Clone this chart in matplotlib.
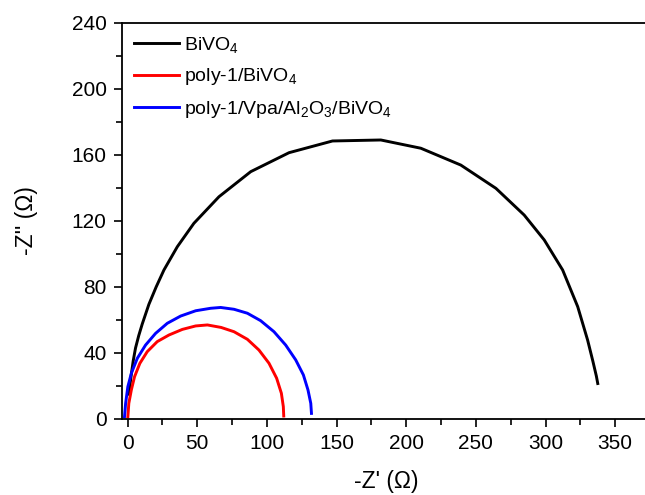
import numpy as np
import matplotlib
matplotlib.use("Agg")
import matplotlib.pyplot as plt
from matplotlib.ticker import MultipleLocator

plt.rcParams['font.family'] = ['Liberation Sans', 'DejaVu Sans']
plt.rcParams['mathtext.fontset'] = 'custom'
plt.rcParams['mathtext.rm'] = 'Liberation Sans'
plt.rcParams['mathtext.it'] = 'Liberation Sans:italic'

# Nyquist data
bivo4_x = [1.0, 2.2, 4.0, 5.7, 8.0, 10.5, 15.3, 20.5, 26.1, 35.7, 47.6, 65.6, 88.4, 115.9,
           147.1, 181.8, 210.5, 239.2, 264.4, 284.7, 299.1, 312.3, 323.1, 330.2, 334.0,
           336.5, 337.5]
bivo4_y = [15.0, 24.0, 35.0, 43.0, 50.5, 57.5, 69.5, 80.0, 90.3, 104.4, 118.6, 134.7, 149.9,
           161.4, 168.5, 169.1, 164.1, 153.9, 139.8, 123.6, 108.5, 90.3, 68.1, 47.9, 35.0,
           26.0, 21.5]

poly1_x = [0.2, 0.9, 2.7, 5.0, 8.8, 14.1, 21.3, 29.7, 39.3, 48.9, 57.3, 67.1, 76.4, 86.0,
           94.3, 101.5, 107.0, 110.4, 111.8, 112.1]
poly1_y = [1.4, 9.5, 17.6, 25.6, 33.7, 40.8, 46.9, 50.9, 54.3, 56.4, 57.0, 55.5, 52.9, 48.3,
           41.8, 33.8, 24.7, 15.6, 7.5, 1.8]

vpa_x = [-2.2, -1.4, 0.2, 2.7, 7.0, 12.9, 20.1, 28.5, 38.1, 48.9, 59.6, 66.8, 76.4, 86.0,
         95.5, 105.1, 113.5, 120.7, 126.2, 129.5, 131.5, 132.0]
vpa_y = [1.4, 9.5, 19.6, 27.7, 36.8, 44.8, 51.9, 58.0, 62.4, 65.6, 67.1, 67.6, 66.5, 64.1,
         59.6, 52.9, 44.8, 35.8, 26.7, 17.6, 9.5, 3.4]

labels = ['BiVO$_4$', 'poly-1/BiVO$_4$', 'poly-1/Vpa/Al$_2$O$_3$/BiVO$_4$']

fig = plt.figure(figsize=(6.45, 4.95), dpi=100)
# axes in pixels: left 122, right ~650 (cut by figure edge), top 23, bottom 419
ax = fig.add_axes([122/645, (495-419)/495, (650-122)/645, (419-23)/495])

ax.plot(bivo4_x, bivo4_y, color='black', lw=2.1, label=labels[0])
ax.plot(poly1_x, poly1_y, color='#ff0000', lw=2.1, label=labels[1])
ax.plot(vpa_x, vpa_y, color='#0000ff', lw=2.1, label=labels[2])

ax.set_xlim(-4, 375)
ax.set_ylim(0, 240)
ax.xaxis.set_major_locator(MultipleLocator(50))
ax.xaxis.set_minor_locator(MultipleLocator(25))
ax.yaxis.set_major_locator(MultipleLocator(40))
ax.yaxis.set_minor_locator(MultipleLocator(20))
ax.tick_params(which='major', direction='out', length=6, width=1.2, labelsize=15, pad=5)
ax.tick_params(which='minor', direction='out', length=4, width=1.2)
ax.tick_params(top=False, right=False)
for s in ax.spines.values():
    s.set_linewidth(1.3)

ax.set_xlabel("-Z' (\u03a9)", fontsize=16.5, labelpad=12)
ax.set_ylabel("-Z'' (\u03a9)", fontsize=16.5, labelpad=24)

ax.legend(loc='upper left', frameon=False, fontsize=14, handlelength=2.35,
          handletextpad=0.25, labelspacing=0.6, borderaxespad=0.2,
          bbox_to_anchor=(0.0, 1.0))

fig.savefig('out.png', dpi=100)
